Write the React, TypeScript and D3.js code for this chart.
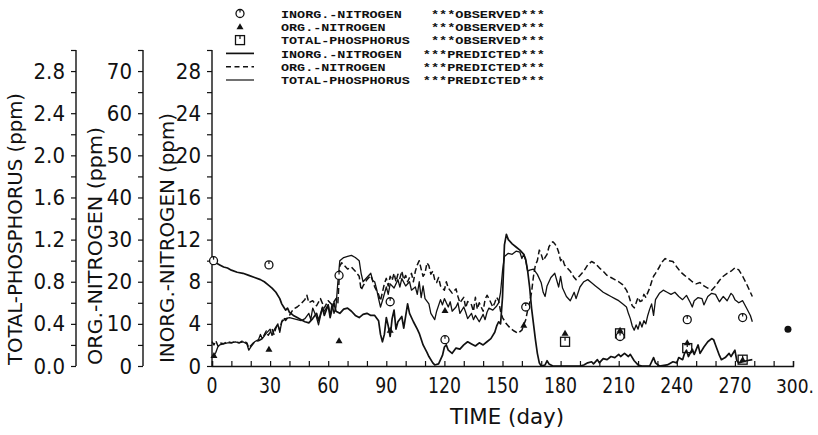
import React, { useEffect, useRef } from 'react';
import * as d3 from 'd3';

// predicted series, [day, value] in each series' own unit (ppm)
const inorgPredicted: [number, number][] = [
  [0, 10], [2, 9.8], [4, 9.6], [6, 9.4], [8, 9.3], [10, 9.1], [13, 8.9], [16, 8.8], [19, 8.6], [22, 8.4],
  [25, 8.2], [27, 8.0], [29, 7.7], [31, 7.4], [33, 7.0], [35, 6.4], [36, 5.9], [37, 5.6], [38, 5.3], [39, 5.5],
  [40, 5.1], [42, 4.8], [44, 4.6], [46, 4.4], [48, 4.2], [50, 4.1], [52, 4.5], [54, 5.0], [55, 4.3], [57, 5.5],
  [58, 4.8], [60, 5.8], [61, 4.6], [62, 5.4], [63, 6.0], [64, 5.2], [66, 5.0], [68, 5.4], [70, 5.5], [72, 5.2],
  [74, 4.8], [76, 4.6], [78, 4.9], [80, 5.0], [82, 4.8], [84, 4.8], [86, 4.3], [87, 3.0], [88, 2.3], [89, 3.0],
  [90, 4.6], [91, 3.8], [92, 2.8], [93, 4.5], [94, 5.3], [95, 3.5], [96, 4.2], [98, 4.7], [99, 3.6], [101, 5.9],
  [102, 5.0], [104, 4.2], [106, 3.5], [107, 3.1], [109, 2.0], [111, 1.3], [112, 0.9], [114, 0.3], [115, 0.1],
  [117, 0.2], [119, 1.0], [120, 1.8], [121, 2.0], [122, 1.5], [124, 1.2], [126, 1.7], [128, 1.6], [130, 2.0],
  [132, 2.3], [134, 2.1], [136, 1.9], [138, 2.2], [140, 2.0], [142, 2.3], [144, 2.6], [146, 3.2], [147, 3.8],
  [148, 4.2], [149, 4.0], [150, 6.5], [151, 11.5], [152, 12.5], [153, 12.0], [155, 11.6], [157, 11.3], [159, 11.0],
  [161, 10.6], [162, 10.1], [163, 9.0], [164, 7.5], [165, 5.5], [166, 4.0], [167, 2.5], [168, 1.2], [169, 0.3],
  [170, 0.0], [172, 0.1], [173, 0.5], [174, 0.2], [176, 0.0], [190, 0.0], [192, 0.1], [194, 0.3], [196, 0.4],
  [197, 0.2], [199, 0.6], [200, 0.3], [202, 0.7], [204, 0.6], [206, 0.9], [208, 0.8], [210, 1.1], [211, 0.9],
  [213, 1.2], [215, 0.9], [216, 1.1], [218, 0.5], [220, 0.1], [222, 0.0], [226, 0.0], [228, 0.8], [229, 0.3],
  [231, 0.0], [235, 0.1], [236, 0.2], [238, 0.4], [240, 0.3], [241, 0.8], [243, 0.6], [244, 1.2], [245, 1.5],
  [246, 0.9], [248, 1.6], [249, 1.1], [251, 2.0], [252, 1.2], [254, 1.8], [256, 2.3], [258, 2.6], [259, 2.5],
  [260, 2.0], [262, 1.0], [263, 0.6], [265, 0.8], [267, 1.2], [268, 0.9], [270, 1.5], [271, 0.5], [272, 0.3],
  [274, 0.4], [276, 0.5], [279, 0.6],
];

const orgPredicted: [number, number][] = [
  [0, 5.8], [1, 5.0], [2, 6.0], [3, 4.8], [4, 5.5], [6, 5.3], [8, 5.8], [10, 5.5], [12, 5.8], [14, 5.5],
  [16, 6.0], [18, 5.5], [19, 4.3], [20, 4.8], [22, 5.8], [24, 6.0], [26, 6.5], [28, 8.3], [29, 7.3], [30, 8.0],
  [31, 8.8], [32, 7.5], [33, 9.0], [34, 9.8], [35, 8.5], [36, 10.5], [37, 11.5], [38, 10.8], [40, 12.0], [42, 13.5],
  [44, 14.0], [46, 14.8], [48, 15.8], [49, 16.8], [50, 15.0], [52, 15.5], [54, 14.3], [56, 16.0], [58, 13.8],
  [60, 15.5], [62, 14.5], [64, 16.0], [65, 15.0], [66, 23.8], [67, 24.5], [68, 24.0], [70, 23.0], [72, 23.5],
  [74, 22.5], [76, 21.3], [77, 18.0], [78, 19.0], [80, 20.5], [82, 21.5], [84, 18.8], [86, 17.0], [87, 15.5],
  [88, 17.5], [89, 19.5], [90, 20.8], [91, 19.0], [92, 21.3], [93, 20.3], [94, 22.0], [95, 20.0], [96, 21.8],
  [97, 20.8], [98, 22.5], [99, 20.5], [100, 21.5], [101, 20.0], [102, 21.0], [103, 22.0], [104, 20.0], [105, 22.5],
  [106, 24.0], [107, 25.0], [108, 23.0], [109, 21.3], [110, 22.0], [111, 24.5], [112, 23.8], [113, 21.8],
  [114, 22.5], [115, 20.5], [116, 19.8], [117, 21.0], [118, 19.0], [120, 18.0], [121, 20.0], [122, 18.5],
  [124, 17.3], [126, 18.3], [127, 16.5], [128, 15.0], [130, 16.3], [131, 13.8], [132, 15.3], [134, 14.5],
  [135, 13.0], [136, 16.3], [137, 13.5], [138, 15.0], [140, 13.0], [141, 15.8], [142, 16.8], [143, 16.0],
  [144, 15.0], [145, 14.0], [146, 15.0], [147, 16.3], [148, 15.5], [149, 13.0], [150, 11.5], [152, 10.0],
  [154, 9.0], [156, 8.3], [158, 7.8], [160, 8.5], [161, 9.8], [162, 11.0], [163, 13.3], [164, 15.0], [165, 17.5],
  [166, 21.3], [167, 24.0], [168, 25.0], [169, 27.5], [170, 26.5], [171, 25.0], [172, 25.8], [173, 26.5],
  [174, 28.3], [175, 29.0], [176, 29.5], [177, 29.0], [178, 28.3], [179, 27.0], [180, 25.0], [181, 25.5],
  [182, 24.0], [183, 23.5], [185, 22.5], [187, 21.0], [188, 20.5], [190, 21.5], [192, 22.5], [194, 24.0],
  [196, 24.8], [198, 24.3], [200, 23.3], [202, 22.5], [204, 21.5], [206, 21.0], [208, 20.5], [210, 20.0],
  [212, 19.3], [214, 18.0], [215, 17.0], [216, 15.5], [217, 14.3], [218, 13.8], [219, 15.0], [220, 16.3],
  [221, 15.3], [222, 15.5], [223, 17.0], [224, 16.3], [226, 18.5], [227, 20.0], [228, 21.3], [229, 22.0],
  [231, 23.5], [232, 24.5], [234, 25.5], [236, 25.0], [238, 24.8], [240, 23.5], [242, 22.3], [244, 21.5],
  [246, 20.8], [248, 20.0], [250, 19.5], [252, 19.8], [254, 19.0], [256, 18.5], [258, 18.0], [260, 19.0],
  [262, 20.3], [264, 21.3], [266, 22.0], [268, 22.5], [270, 23.3], [272, 22.8], [274, 21.3], [276, 19.5],
  [278, 17.5], [279, 16.5],
];

const tpPredicted: [number, number][] = [
  [0, 0.09], [1, 0.10], [2, 0.13], [3, 0.18], [4, 0.20], [6, 0.21], [8, 0.22], [10, 0.22], [12, 0.23], [14, 0.22],
  [16, 0.23], [18, 0.21], [19, 0.15], [20, 0.18], [22, 0.23], [24, 0.25], [25, 0.30], [26, 0.26], [28, 0.31],
  [30, 0.35], [31, 0.29], [32, 0.34], [34, 0.40], [35, 0.32], [36, 0.42], [38, 0.45], [40, 0.46], [42, 0.45],
  [44, 0.44], [46, 0.43], [48, 0.45], [50, 0.50], [51, 0.44], [52, 0.55], [54, 0.46], [55, 0.39], [57, 0.56],
  [58, 0.52], [60, 0.58], [61, 0.48], [62, 0.59], [63, 0.50], [64, 0.56], [65, 0.80], [66, 1.00], [68, 1.03],
  [70, 1.04], [72, 1.05], [74, 1.03], [76, 1.00], [77, 0.88], [78, 0.80], [80, 0.84], [82, 0.88], [83, 0.81],
  [84, 0.80], [85, 0.73], [86, 0.64], [87, 0.56], [88, 0.62], [90, 0.75], [91, 0.68], [92, 0.78], [94, 0.74],
  [96, 0.82], [97, 0.75], [98, 0.83], [100, 0.76], [102, 0.80], [103, 0.72], [105, 0.75], [106, 0.68], [107, 0.80],
  [108, 0.65], [109, 0.76], [110, 0.64], [112, 0.59], [113, 0.50], [115, 0.44], [116, 0.52], [118, 0.63],
  [119, 0.58], [120, 0.64], [122, 0.56], [123, 0.61], [124, 0.52], [126, 0.56], [127, 0.60], [128, 0.50],
  [130, 0.56], [131, 0.51], [132, 0.45], [134, 0.50], [135, 0.44], [136, 0.48], [138, 0.42], [140, 0.49],
  [141, 0.44], [142, 0.51], [143, 0.55], [145, 0.53], [147, 0.57], [148, 0.60], [149, 0.70], [150, 0.90],
  [151, 1.04], [153, 1.07], [155, 1.06], [157, 1.09], [159, 1.08], [160, 1.02], [161, 1.06], [162, 1.00],
  [163, 0.90], [164, 0.91], [166, 0.92], [168, 0.87], [170, 0.79], [171, 0.70], [172, 0.66], [173, 0.76],
  [175, 0.84], [177, 0.88], [179, 0.75], [180, 0.85], [181, 0.74], [183, 0.66], [185, 0.62], [187, 0.70],
  [188, 0.64], [190, 0.75], [192, 0.80], [194, 0.82], [196, 0.79], [198, 0.76], [200, 0.73], [202, 0.70],
  [204, 0.68], [206, 0.66], [208, 0.64], [210, 0.62], [212, 0.59], [214, 0.56], [215, 0.50], [216, 0.45],
  [217, 0.38], [218, 0.34], [219, 0.39], [220, 0.35], [221, 0.42], [222, 0.37], [223, 0.43], [224, 0.40],
  [225, 0.48], [226, 0.54], [227, 0.59], [228, 0.48], [229, 0.63], [231, 0.69], [233, 0.72], [235, 0.70],
  [237, 0.68], [239, 0.70], [241, 0.66], [243, 0.63], [245, 0.67], [247, 0.60], [248, 0.56], [249, 0.62],
  [251, 0.65], [253, 0.64], [254, 0.58], [256, 0.66], [258, 0.69], [260, 0.68], [262, 0.61], [264, 0.66],
  [266, 0.62], [268, 0.69], [269, 0.67], [270, 0.63], [272, 0.60], [274, 0.62], [276, 0.55], [278, 0.48],
  [279, 0.42],
];

// observed values
const inorgObserved: [number, number][] = [
  [0.8, 10.0], [29.4, 9.6], [65.6, 8.6], [92, 6.1], [120.3, 2.5], [162, 5.6], [210.7, 2.8], [245.4, 4.4], [274, 4.6],
];
const orgObserved: [number, number][] = [
  [1, 2.5], [29.4, 4.0], [65.6, 6.0], [92, 8.5], [120.3, 13.2], [161, 9.7], [182.3, 7.8], [210.7, 8.5],
  [245.4, 5.5], [274, 1.5],
];
const tpObserved: [number, number][] = [
  [182.3, 0.23], [210.7, 0.31], [245.4, 0.17], [274, 0.06],
];
const lateSpot: [number, number][] = [[297.4, 3.5]];

const xTicks = [0, 30, 60, 90, 120, 150, 180, 210, 240, 270, 300];

const legendRows = [
  { mark: 'circle', name: 'INORG.-NITROGEN', tag: '***OBSERVED***' },
  { mark: 'triangle', name: 'ORG.-NITROGEN', tag: '***OBSERVED***' },
  { mark: 'square', name: 'TOTAL-PHOSPHORUS', tag: '***OBSERVED***' },
  { mark: 'solid', name: 'INORG.-NITROGEN', tag: '***PREDICTED***' },
  { mark: 'dashed', name: 'ORG.-NITROGEN', tag: '***PREDICTED***' },
  { mark: 'thin', name: 'TOTAL-PHOSPHORUS', tag: '***PREDICTED***' },
];

const INK = '#111';
const NARROW = "'Liberation Sans Narrow', 'DejaVu Sans Condensed', 'Roboto', sans-serif";
const MONO = "'Liberation Mono', 'DejaVu Sans Mono', monospace";

export default function App() {
  const ref = useRef<SVGSVGElement | null>(null);

  useEffect(() => {
    const svg = d3.select(ref.current);
    svg.selectAll('*').remove();

    const x = d3.scaleLinear().domain([0, 300]).range([212, 793]);
    const yIn = d3.scaleLinear().domain([0, 30]).range([366, 50]);
    const yOrg = d3.scaleLinear().domain([0, 75]).range([366, 50]);
    const yTp = d3.scaleLinear().domain([0, 3]).range([366, 50]);

    // y axes
    const yAxis = (xPos: number, scale: any, max: number, minor: number, major: number, fmt: (d: number) => string) => {
      const vals = d3.range(0, max + minor / 2, minor);
      const g = svg.append('g').attr('transform', `translate(${xPos},0)`);
      g.call(d3.axisLeft(scale)
        .tickValues(vals)
        .tickSize(5)
        .tickPadding(6)
        .tickFormat((d: any) => {
          const r = Math.round(d / major * 1000) / 1000;
          return Number.isInteger(r) && d < max - 1e-6 ? fmt(d) : '';
        }))
        .call(s => s.select('.domain').remove())
        .call(s => s.selectAll('.tick line').attr('stroke', INK).attr('stroke-width', 1.2))
        .call(s => s.selectAll('.tick text')
          .attr('fill', INK)
          .style('font-family', NARROW)
          .style('font-size', '22px'));
      g.append('line')
        .attr('x1', 0).attr('x2', 0)
        .attr('y1', scale(max)).attr('y2', scale(0))
        .attr('stroke', INK).attr('stroke-width', 1.4);
    };
    yAxis(76, yTp, 3, 0.2, 0.4, d => d3.format('.1f')(d));
    yAxis(143, yOrg, 75, 5, 10, d => String(d));
    yAxis(212, yIn, 30, 2, 4, d => String(d));

    // axis titles
    const yTitle = (cx: number, cy: number, len: number, label: string) => {
      svg.append('text')
        .attr('transform', `translate(${cx},${cy}) rotate(-90)`)
        .attr('text-anchor', 'middle')
        .attr('dy', '0.36em')
        .attr('textLength', len)
        .attr('lengthAdjust', 'spacingAndGlyphs')
        .attr('fill', INK)
        .style('font-family', NARROW)
        .style('font-size', '20px')
        .text(label);
    };
    yTitle(15, 229, 272, 'TOTAL-PHOSPHORUS (ppm)');
    yTitle(95, 246, 238, 'ORG.-NITROGEN (ppm)');
    yTitle(167, 238, 250, 'INORG.-NITROGEN (ppm)');

    // x axis
    const gx = svg.append('g').attr('transform', 'translate(0,366)');
    gx.call(d3.axisTop(x).tickValues(d3.range(0, 301, 10)).tickSize(5).tickFormat(() => ''))
      .call(s => s.select('.domain').attr('stroke', INK).attr('stroke-width', 1.4))
      .call(s => s.selectAll('.tick line').attr('stroke', INK).attr('stroke-width', 1.2));
    svg.append('g')
      .selectAll('text')
      .data(xTicks)
      .enter()
      .append('text')
      .attr('x', d => (d === 300 ? 814 : x(d)))
      .attr('y', 393)
      .attr('text-anchor', d => (d === 300 ? 'end' : 'middle'))
      .attr('textLength', d => (d === 300 ? 38 : String(d).length * 11))
      .attr('lengthAdjust', 'spacingAndGlyphs')
      .attr('fill', INK)
      .style('font-family', NARROW)
      .style('font-size', d => (d === 300 ? '20px' : '22px'))
      .text(d => (d === 300 ? '300.' : String(d)));
    svg.append('text')
      .attr('x', 507)
      .attr('y', 424)
      .attr('text-anchor', 'middle')
      .attr('textLength', 114)
      .attr('lengthAdjust', 'spacingAndGlyphs')
      .attr('fill', INK)
      .style('font-family', NARROW)
      .style('font-size', '22px')
      .text('TIME (day)');

    // predicted lines
    const lineOf = (scale: any) => d3.line<[number, number]>()
      .x(d => x(d[0]))
      .y(d => scale(d[1]));
    svg.append('path').datum(tpPredicted)
      .attr('d', lineOf(yTp)).attr('fill', 'none').attr('stroke', INK).attr('stroke-width', 1.3)
      .attr('stroke-linejoin', 'round');
    svg.append('path').datum(orgPredicted)
      .attr('d', lineOf(yOrg)).attr('fill', 'none').attr('stroke', INK).attr('stroke-width', 1.5)
      .attr('stroke-dasharray', '6,3').attr('stroke-linejoin', 'round');
    svg.append('path').datum(inorgPredicted)
      .attr('d', lineOf(yIn)).attr('fill', 'none').attr('stroke', INK).attr('stroke-width', 1.7)
      .attr('stroke-linejoin', 'round');

    // observed markers
    const circleMark = (g: any, cx: number, cy: number) => {
      g.append('circle').attr('cx', cx).attr('cy', cy).attr('r', 4)
        .attr('fill', '#fff').attr('stroke', INK).attr('stroke-width', 1.3);
      g.append('line').attr('x1', cx).attr('x2', cx).attr('y1', cy - 4).attr('y2', cy - 1)
        .attr('stroke', INK).attr('stroke-width', 1.2);
    };
    const triangleMark = (g: any, cx: number, cy: number) => {
      g.append('path').attr('d', `M${cx},${cy - 3.5}L${cx + 3.5},${cy + 2.5}L${cx - 3.5},${cy + 2.5}Z`)
        .attr('fill', INK);
    };
    const squareMark = (g: any, cx: number, cy: number) => {
      g.append('rect').attr('x', cx - 4.5).attr('y', cy - 4.5).attr('width', 9).attr('height', 9)
        .attr('fill', 'none').attr('stroke', INK).attr('stroke-width', 1.3);
      g.append('line').attr('x1', cx).attr('x2', cx).attr('y1', cy - 4.5).attr('y2', cy - 1)
        .attr('stroke', INK).attr('stroke-width', 1.2);
    };
    const marks = svg.append('g');
    tpObserved.forEach(d => squareMark(marks, x(d[0]), yTp(d[1])));
    inorgObserved.forEach(d => circleMark(marks, x(d[0]), yIn(d[1])));
    orgObserved.forEach(d => triangleMark(marks, x(d[0]), yOrg(d[1])));
    lateSpot.forEach(d => marks.append('circle').attr('cx', x(d[0])).attr('cy', yIn(d[1])).attr('r', 3.5).attr('fill', INK));

    // legend
    const lg = svg.append('g');
    legendRows.forEach((row, i) => {
      const cy = 13.5 + i * 13.3;
      if (row.mark === 'circle') circleMark(lg, 240, cy);
      if (row.mark === 'triangle') triangleMark(lg, 240, cy);
      if (row.mark === 'square') squareMark(lg, 240, cy);
      if (row.mark === 'solid' || row.mark === 'thin' || row.mark === 'dashed') {
        lg.append('line').attr('x1', 226).attr('x2', 254).attr('y1', cy).attr('y2', cy)
          .attr('stroke', INK)
          .attr('stroke-width', row.mark === 'solid' ? 1.7 : row.mark === 'thin' ? 1.2 : 1.5)
          .attr('stroke-dasharray', row.mark === 'dashed' ? '5,3.5' : null);
      }
      lg.append('text')
        .attr('x', 281).attr('y', cy).attr('dy', '0.36em')
        .attr('textLength', row.name.length * 8.05)
        .attr('lengthAdjust', 'spacingAndGlyphs')
        .attr('fill', INK)
        .style('font-family', MONO).style('font-size', '11.5px').style('font-weight', 'bold')
        .text(row.name);
      lg.append('text')
        .attr('x', 545).attr('y', cy).attr('dy', '0.36em')
        .attr('text-anchor', 'end')
        .attr('textLength', row.tag.length * 8.15)
        .attr('lengthAdjust', 'spacingAndGlyphs')
        .attr('fill', INK)
        .style('font-family', MONO).style('font-size', '11.5px').style('font-weight', 'bold')
        .text(row.tag);
    });
  }, []);

  return (
    <svg
      ref={ref}
      width={818}
      height={435}
      viewBox="0 0 818 435"
      style={{ position: 'absolute', left: 0, top: 0, background: '#fff', display: 'block' }}
    />
  );
}
